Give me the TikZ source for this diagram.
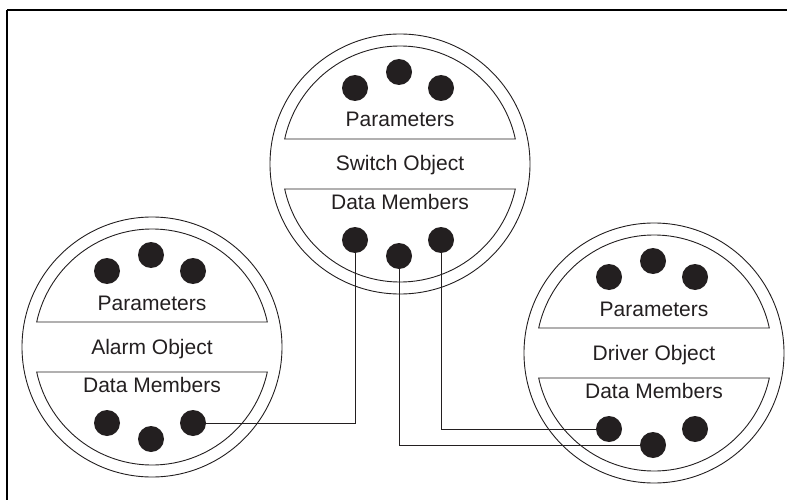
\documentclass[tikz,border=0pt]{standalone}
\usepackage{fontspec}
\setmainfont{Liberation Sans}
\definecolor{ink}{HTML}{231F20}
\tikzset{
  ring/.style={draw=ink, line width=0.9pt},
  dotnode/.style={circle, fill=ink, inner sep=0pt, minimum size=26pt},
  lbl/.style={text=ink, anchor=base, inner sep=0pt, font=\fontsize{21}{25}\selectfont},
  wire/.style={draw=ink, line width=0.9pt},
  frame/.style={draw=black, line width=2pt}
}
\newcommand\drawobj[4]{%
  \begin{scope}[shift={(#2,#3)}]
    \draw[ring] (0,0) circle[radius=130];
    \draw[ring] (-12.23:118) arc[start angle=-12.23, end angle=-167.77, radius=118] -- cycle;
    \draw[ring] (12.23:118) arc[start angle=12.23, end angle=167.77, radius=118] -- cycle;
    \node[dotnode] (#1-u1) at (-45,-76) {};
    \node[dotnode] (#1-u2) at (-1,-92) {};
    \node[dotnode] (#1-u3) at (41,-76) {};
    \node[dotnode] (#1-l1) at (-45,76) {};
    \node[dotnode] (#1-l2) at (-1,92) {};
    \node[dotnode] (#1-l3) at (41,76) {};
    \node[lbl] (#1-par) at (0,-37) {Parameters};
    \node[lbl] (#1-name) at (0,7) {#4};
    \node[lbl] (#1-data) at (0,45) {Data Members};
  \end{scope}}
\begin{document}
\begin{tikzpicture}[x=1pt,y=-1pt]
  \useasboundingbox (0,0) rectangle (787,500);
  \draw[frame] (7,10) -- (790,10);
  \draw[frame] (7,10) -- (7,503);
  \drawobj{sw}{400}{164}{Switch Object}
  \drawobj{al}{152}{347}{Alarm Object}
  \drawobj{dr}{654}{353}{Driver Object}
  \draw[wire] (sw-l1) -- (sw-l1 |- al-l3) -- (al-l3);
  \draw[wire] (sw-l2) -- (sw-l2 |- dr-l2) -- (dr-l2);
  \draw[wire] (sw-l3) -- (sw-l3 |- dr-l1) -- (dr-l1);
\end{tikzpicture}
\end{document}
